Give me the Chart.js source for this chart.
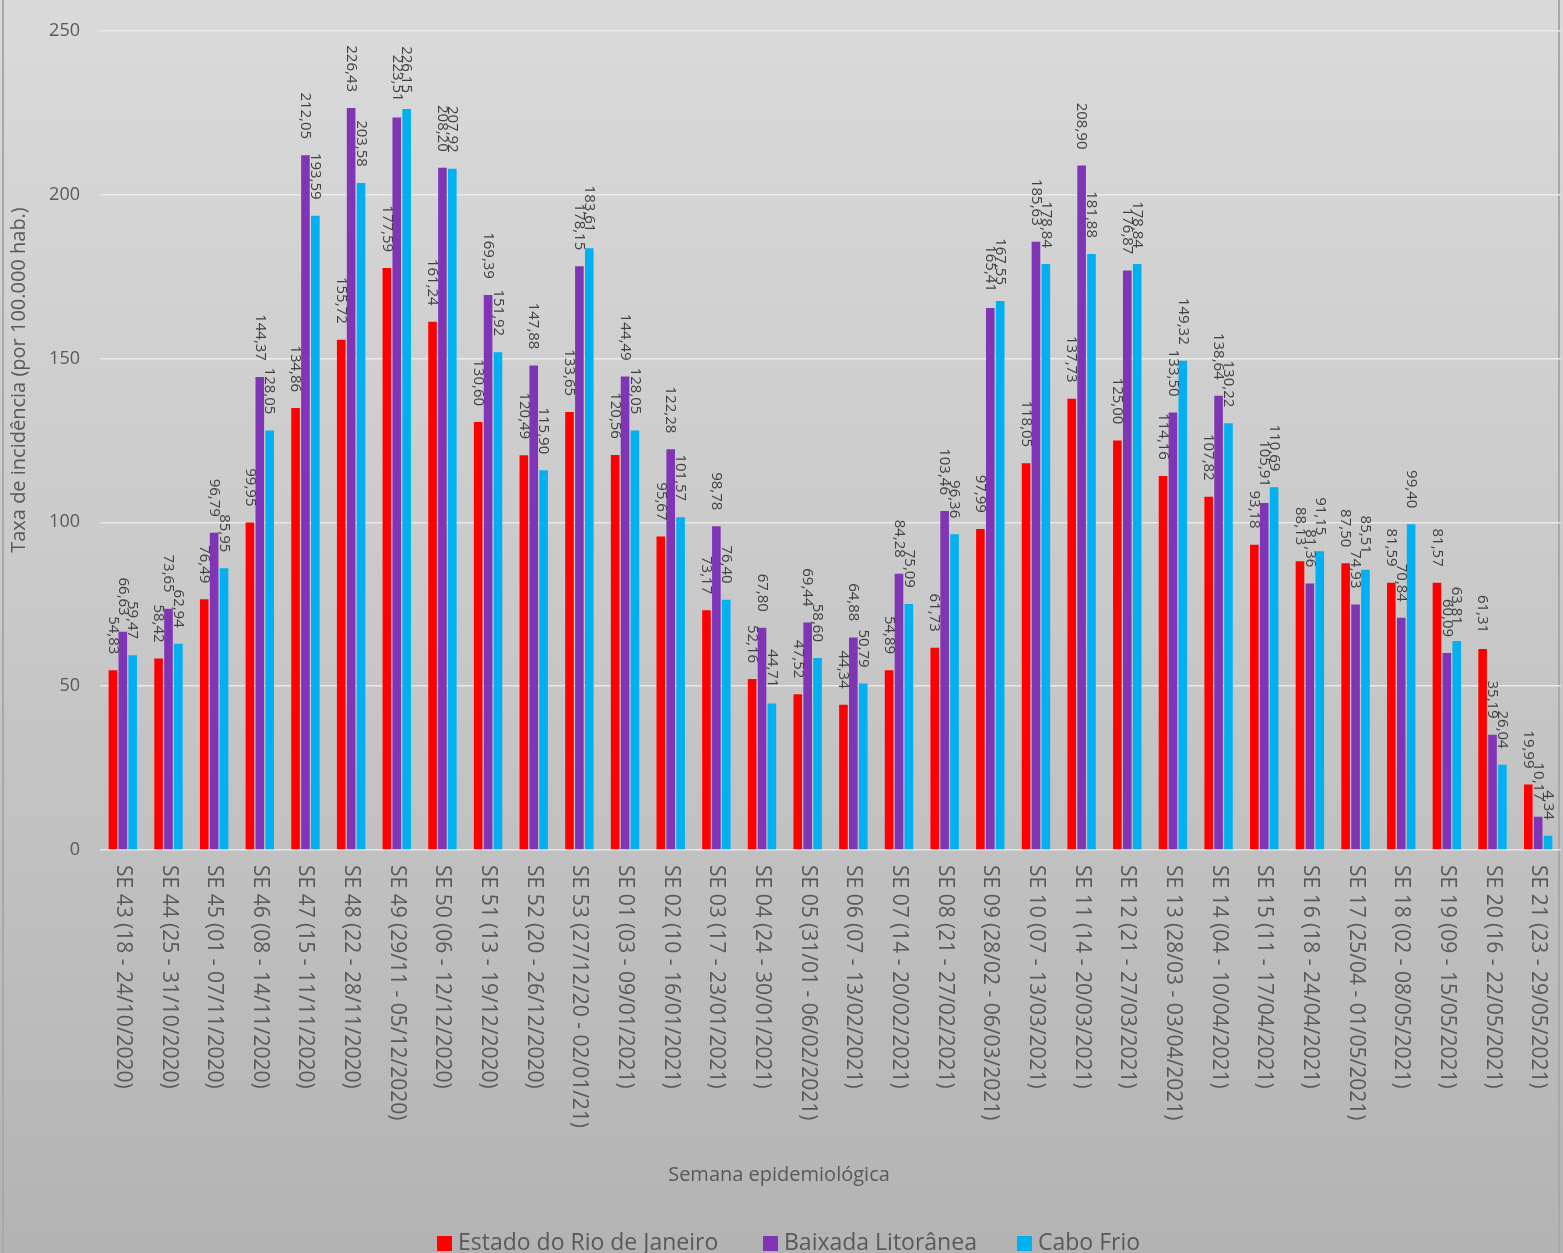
<!DOCTYPE html>
<html>
<head>
<meta charset="utf-8">
<title>Taxa de incidência por semana epidemiológica</title>
<script src="https://cdn.jsdelivr.net/npm/chart.js@4.4.0/dist/chart.umd.min.js"></script>
<style>
  html, body { margin: 0; padding: 0; overflow: hidden; background: #c8c8c8; }
  #wrap { width: 1563px; height: 1253px; position: relative; }
</style>
</head>
<body>
<div id="wrap"><canvas id="myChart"></canvas></div>
<script>
let semanas = [
  'SE 43 (18 - 24/10/2020)', 'SE 44 (25 - 31/10/2020)', 'SE 45 (01 - 07/11/2020)',
  'SE 46 (08 - 14/11/2020)', 'SE 47 (15 - 11/11/2020)', 'SE 48 (22 - 28/11/2020)',
  'SE 49 (29/11 - 05/12/2020)', 'SE 50 (06 - 12/12/2020)', 'SE 51 (13 - 19/12/2020)',
  'SE 52 (20 - 26/12/2020)', 'SE 53 (27/12/20 - 02/01/21)', 'SE 01 (03 - 09/01/2021)',
  'SE 02 (10 - 16/01/2021)', 'SE 03 (17 - 23/01/2021)', 'SE 04 (24 - 30/01/2021)',
  'SE 05 (31/01 - 06/02/2021)', 'SE 06 (07 - 13/02/2021)', 'SE 07 (14 - 20/02/2021)',
  'SE 08 (21 - 27/02/2021)', 'SE 09 (28/02 - 06/03/2021)', 'SE 10 (07 - 13/03/2021)',
  'SE 11 (14 - 20/03/2021)', 'SE 12 (21 - 27/03/2021)', 'SE 13 (28/03 - 03/04/2021)',
  'SE 14 (04 - 10/04/2021)', 'SE 15 (11 - 17/04/2021)', 'SE 16 (18 - 24/04/2021)',
  'SE 17 (25/04 - 01/05/2021)', 'SE 18 (02 - 08/05/2021)', 'SE 19 (09 - 15/05/2021)',
  'SE 20 (16 - 22/05/2021)', 'SE 21 (23 - 29/05/2021)'
];

let estadoRJ = [54.83, 58.42, 76.49, 99.95, 134.86, 155.72, 177.59, 161.24, 130.60, 120.49,
  133.65, 120.56, 95.67, 73.17, 52.16, 47.52, 44.34, 54.89, 61.73, 97.99, 118.05, 137.73,
  125.00, 114.16, 107.82, 93.18, 88.13, 87.50, 81.59, 81.57, 61.31, 19.99];

let baixada = [66.63, 73.65, 96.79, 144.37, 212.05, 226.43, 223.51, 208.20, 169.39, 147.88,
  178.15, 144.49, 122.28, 98.78, 67.80, 69.44, 64.88, 84.28, 103.46, 165.41, 185.63, 208.90,
  176.87, 133.50, 138.64, 105.91, 81.36, 74.93, 70.84, 60.09, 35.19, 10.17];

let caboFrio = [59.47, 62.94, 85.95, 128.05, 193.59, 203.58, 226.15, 207.92, 151.92, 115.90,
  183.61, 128.05, 101.57, 76.40, 44.71, 58.60, 50.79, 75.09, 96.36, 167.55, 178.84, 181.88,
  178.84, 149.32, 130.22, 110.69, 91.15, 85.51, 99.40, 63.81, 26.04, 4.34];

let seriesNames = ['Estado do Rio de Janeiro', 'Baixada Litorânea', 'Cabo Frio'];
let seriesColors = ['#ff0000', '#7f35b5', '#00b0f0'];

let FONT = '"Open Sans", "DejaVu Sans", sans-serif';
let TEXT = '#595959';

// pt-BR style number: 54,83
function fmt(v) {
  return v.toFixed(2).replace('.', ',');
}

let decor = {
  id: 'decor',
  beforeDraw(chart) {
    let c = chart.ctx, w = chart.width, h = chart.height;
    c.save();
    let g = c.createLinearGradient(0, 0, 0, h);
    g.addColorStop(0, '#dadada');
    g.addColorStop(0.5, '#c8c8c8');
    g.addColorStop(1, '#b3b3b3');
    c.fillStyle = g;
    c.fillRect(0, 0, w, h);
    c.fillStyle = '#a8a8a8';
    c.fillRect(2, 0, 2, h);
    c.fillRect(w - 5, 0, 2, h);
    c.restore();
  },
  afterDatasetsDraw(chart) {
    // value labels, rotated to read downwards, sitting above each bar
    let c = chart.ctx;
    c.save();
    c.font = '15px ' + FONT;
    c.fillStyle = '#404040';
    c.textAlign = 'right';
    c.textBaseline = 'middle';
    chart.data.datasets.forEach((ds, i) => {
      chart.getDatasetMeta(i).data.forEach((bar, j) => {
        c.save();
        c.translate(bar.x, bar.y - 16);
        c.rotate(Math.PI / 2);
        c.fillText(fmt(ds.data[j]), 0, 0);
        c.restore();
      });
    });
    c.restore();
  },
  afterDraw(chart) {
    let c = chart.ctx;
    let x = chart.scales.x, area = chart.chartArea;
    c.save();
    c.fillStyle = TEXT;

    // category labels
    c.font = '21px ' + FONT;
    c.textAlign = 'left';
    c.textBaseline = 'middle';
    semanas.forEach((s, i) => {
      c.save();
      c.translate(x.getPixelForValue(i), area.bottom + 15);
      c.rotate(Math.PI / 2);
      c.fillText(s, 0, 0);
      c.restore();
    });

    // axis titles
    c.textAlign = 'center';
    c.font = '20px ' + FONT;
    c.fillText('Semana epidemiológica', 779, 1175);
    c.save();
    c.translate(19, 380);
    c.rotate(-Math.PI / 2);
    c.fillText('Taxa de incidência (por 100.000 hab.)', 0, 0);
    c.restore();

    // legend along the bottom edge
    c.font = '23px ' + FONT;
    c.textAlign = 'left';
    c.textBaseline = 'alphabetic';
    let lx = [437, 763, 1017];
    seriesNames.forEach((n, i) => {
      c.fillStyle = seriesColors[i];
      c.fillRect(lx[i], 1236, 15, 15);
      c.fillStyle = TEXT;
      c.fillText(n, lx[i] + 21, 1250);
    });
    c.restore();
  }
};

let ctx = document.getElementById('myChart').getContext('2d');

let chart = new Chart(ctx, {
  type: 'bar',
  data: {
    labels: semanas,
    datasets: [
      { label: seriesNames[0], data: estadoRJ, backgroundColor: seriesColors[0] },
      { label: seriesNames[1], data: baixada, backgroundColor: seriesColors[1] },
      { label: seriesNames[2], data: caboFrio, backgroundColor: seriesColors[2] }
    ]
  },
  options: {
    responsive: true,
    maintainAspectRatio: false,
    animation: false,
    devicePixelRatio: 1,
    layout: { padding: { top: 27, right: 2, bottom: 0, left: 0 } },
    datasets: { bar: { categoryPercentage: 0.65, barPercentage: 0.87 } },
    plugins: { legend: { display: false }, tooltip: { enabled: false } },
    scales: {
      x: {
        ticks: { display: false },
        grid: { display: false },
        border: { display: false },
        afterFit(s) { s.height = 403; }
      },
      y: {
        min: 0,
        max: 250,
        ticks: { stepSize: 50, padding: 20, color: TEXT, font: { family: FONT, size: 18 } },
        grid: { color: 'rgba(236,236,236,0.9)', lineWidth: 1.5, drawTicks: false },
        border: { display: false },
        afterFit(s) { s.width = 100; }
      }
    }
  },
  plugins: [decor]
});
</script>
</body>
</html>
